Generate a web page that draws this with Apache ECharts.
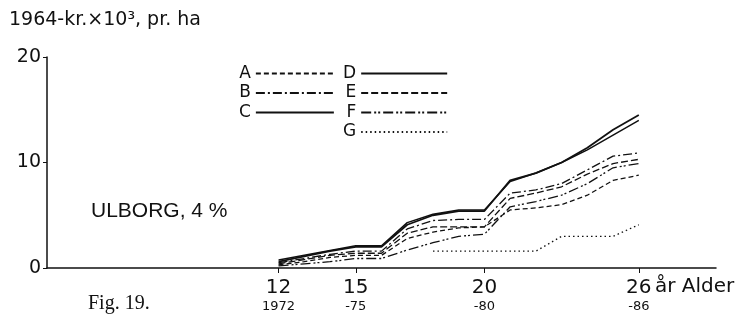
<!DOCTYPE html>
<html>
<head>
<meta charset="utf-8">
<script src="https://cdn.jsdelivr.net/npm/echarts@6/dist/echarts.min.js"></script>
<style>
  html, body { margin: 0; padding: 0; background: #fff; }
  #chart { width: 750px; height: 323px; }
</style>
</head>
<body>
<div id="chart"></div>
<script>
// Age of the stand (years) and the matching calendar year
const ages = [12, 13, 14, 15, 16, 17, 18, 19, 20, 21, 22, 23, 24, 25, 26];
const ageTicks = [12, 15, 20, 26];
const yearTicks = ['1972', '-75', '-80', '-86'];

// Accumulated value, 1964-kr. x 10^3 per ha
const seriesA = [0.3, 0.6, 1.0, 1.2, 1.2, 2.8, 3.4, 3.8, 3.9, 5.5, 5.7, 6.0, 6.9, 8.3, 8.8];
const seriesB = [0.5, 0.9, 1.3, 1.6, 1.6, 3.7, 4.5, 4.6, 4.6, 7.1, 7.4, 8.0, 9.3, 10.6, 10.9];
const seriesC = [0.75, 1.2, 1.65, 2.1, 2.1, 4.3, 5.1, 5.5, 5.5, 8.2, 9.0, 10.0, 11.2, 12.6, 14.0];
const seriesD = [0.6, 1.1, 1.6, 2.0, 2.0, 4.1, 5.0, 5.4, 5.4, 8.3, 9.0, 10.0, 11.4, 13.1, 14.5];
const seriesE = [0.4, 0.8, 1.2, 1.4, 1.4, 3.3, 3.9, 3.9, 3.9, 6.6, 7.1, 7.7, 8.9, 9.9, 10.3];
const seriesF = [0.2, 0.4, 0.6, 0.9, 0.9, 1.7, 2.4, 3.0, 3.2, 5.8, 6.3, 6.9, 8.0, 9.5, 9.9];
const agesG = [18, 19, 20, 21, 22, 23, 24, 25, 26];
const seriesG = [1.6, 1.6, 1.6, 1.6, 1.6, 3.0, 3.0, 3.0, 4.1];

const sans = "'DejaVu Sans', 'Liberation Sans', sans-serif";

function pairs(xs, ys) { return xs.map((x, i) => [x, ys[i]]); }

const styles = {
  A: { type: [5, 3], width: 1.3 },
  B: { type: [9, 3, 2, 3], width: 1.3 },
  C: { type: 'solid', width: 1.5 },
  D: { type: 'solid', width: 1.8 },
  E: { type: [7, 3], width: 1.3 },
  F: { type: [10, 3, 2, 2, 2, 3], width: 1.3 },
  G: { type: [1.5, 3], width: 1.3 }
};

function line(name, xs, ys) {
  return {
    name: name,
    type: 'line',
    data: pairs(xs, ys),
    symbol: 'none',
    silent: true,
    animation: false,
    itemStyle: { color: '#111' },
    lineStyle: Object.assign({ color: '#111' }, styles[name])
  };
}

const legendText = { fontFamily: sans, fontSize: 17, color: '#111', lineHeight: 17 };
const legendCommon = {
  orient: 'vertical', top: 60,
  align: 'right', itemHeight: 14, itemGap: 2.5,
  selectedMode: false, textStyle: legendText,
  itemStyle: { opacity: 0 }
};

const option = {
  backgroundColor: '#fff',
  animation: false,
  color: ['#111'],
  grid: { left: 47, right: 34, top: 57, bottom: 55, containLabel: false },
  title: {
    text: '1964-kr.×10³, pr. ha',
    left: 4, top: 6,
    textStyle: { fontFamily: sans, fontSize: 19, fontWeight: 'normal', color: '#111' }
  },
  legend: [
    Object.assign({ data: ['A', 'B', 'C'], left: 234, itemWidth: 78 }, legendCommon),
    Object.assign({ data: ['D', 'E', 'F', 'G'], left: 338, itemWidth: 86 }, legendCommon)
  ],
  xAxis: {
    type: 'value', min: 3, max: 29,
    axisLine: { show: true, lineStyle: { color: '#111', width: 1.5 } },
    splitLine: { show: false },
    axisTick: { show: true, customValues: ageTicks, length: 5, lineStyle: { color: '#111' } },
    axisLabel: {
      customValues: ageTicks,
      margin: 9,
      formatter: function (v) {
        const i = ageTicks.indexOf(v);
        return i < 0 ? '' : '{a|' + v + '}\n{b|' + yearTicks[i] + '}';
      },
      rich: {
        a: { fontFamily: sans, fontSize: 20, color: '#111', lineHeight: 21 },
        b: { fontFamily: sans, fontSize: 13, color: '#111', lineHeight: 17 }
      }
    }
  },
  yAxis: {
    type: 'value', min: 0, max: 20, interval: 10,
    axisLine: { show: true, lineStyle: { color: '#111', width: 1.5 } },
    splitLine: { show: false },
    axisTick: { show: true, length: 4, lineStyle: { color: '#111' } },
    axisLabel: { fontFamily: sans, fontSize: 19, color: '#111', margin: 6 }
  },
  graphic: [
    {
      type: 'text', left: 655, top: 277,
      style: { text: 'år Alder', font: "20px 'DejaVu Sans', sans-serif", fill: '#111' }
    },
    {
      type: 'text', left: 91, top: 201,
      style: { text: 'ULBORG, 4 %', font: "21px 'Liberation Sans', Arial, sans-serif", fill: '#111' }
    },
    {
      type: 'text', left: 88, top: 294,
      style: { text: 'Fig. 19.', font: "20px 'Liberation Serif', 'Times New Roman', serif", fill: '#111' }
    }
  ],
  series: [
    line('A', ages, seriesA),
    line('B', ages, seriesB),
    line('C', ages, seriesC),
    line('D', ages, seriesD),
    line('E', ages, seriesE),
    line('F', ages, seriesF),
    line('G', agesG, seriesG)
  ]
};

const chart = echarts.init(document.getElementById('chart'), null, { renderer: 'canvas' });
chart.setOption(option);
</script>
</body>
</html>
